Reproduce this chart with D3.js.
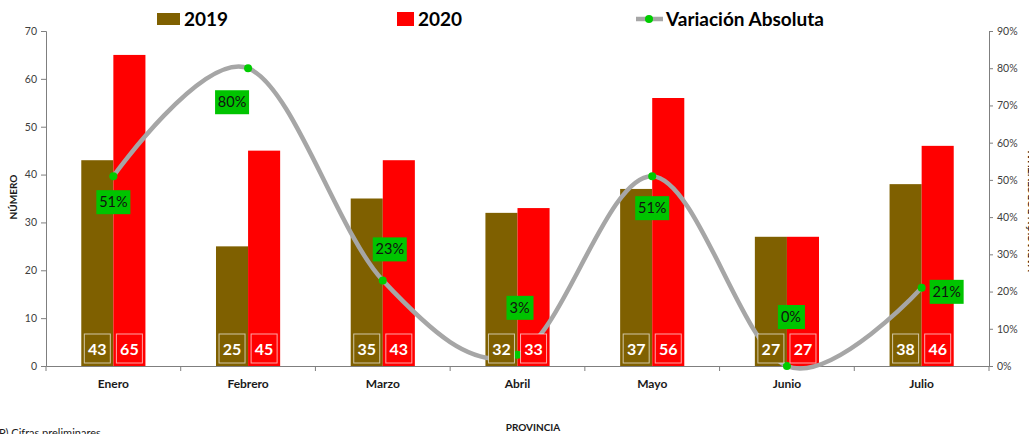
<!DOCTYPE html>
<html><head><meta charset="utf-8">
<script src="https://cdn.jsdelivr.net/npm/d3@7/dist/d3.min.js"></script>
<style>
html,body{margin:0;padding:0;background:#fff;overflow:hidden}
svg{display:block;font-family:Lato,"Open Sans",sans-serif}
</style></head><body>
<script>
const categories = ["Enero","Febrero","Marzo","Abril","Mayo","Junio","Julio"];
const values2019 = [43,25,35,32,37,27,38];
const values2020 = [65,45,43,33,56,27,46];
const variation = [0.51,0.80,0.23,0.03,0.51,0.00,0.21];
const leftTicks = [0,10,20,30,40,50,60,70];
const rightTicks = [0,0.1,0.2,0.3,0.4,0.5,0.6,0.7,0.8,0.9];
const seriesNames = ["2019","2020"];

// label placement offsets (styling, px) for the percent labels
const pctLabelOffset = [[0,26],[-16,34],[7,-31],[2,-47],[0,32],[4,-49],[25,4]];

const W = 1029, H = 434;
const colors = {"2019":"#7f6000","2020":"#ff0000"};
const svg = d3.select("body").append("svg").attr("width",W).attr("height",H);

const x0 = d3.scaleBand().domain(categories).range([46,989]).padding(0);
const x1 = d3.scaleBand().domain(seriesNames).range([0,x0.bandwidth()]).paddingInner(0).paddingOuter(1.1);
const y = d3.scaleLinear().domain([0,70]).range([366,31]);
const y2 = d3.scaleLinear().domain([0,0.9]).range([366,31]);

// bars
const barLayer = svg.append("g");
const groups = barLayer.selectAll("g").data(categories).join("g")
  .attr("transform", d => `translate(${x0(d)},0)`);
groups.each(function(c,i){
  const g = d3.select(this);
  const vals = [values2019[i], values2020[i]];
  seriesNames.forEach((s,k)=>{
    g.append("rect").attr("x",x1(s)).attr("width",x1.bandwidth())
      .attr("y",y(vals[k])).attr("height",y(0)-y(vals[k])).attr("fill",colors[s]);
  });
});

// axes
const axisColor = "#7f7f7f";
const gl = svg.append("g").attr("transform","translate(46,0)")
  .call(d3.axisLeft(y).tickValues(leftTicks).tickSize(5).tickPadding(4));
const gr = svg.append("g").attr("transform","translate(989,0)")
  .call(d3.axisRight(y2).tickValues(rightTicks).tickSize(4).tickPadding(4).tickFormat(d3.format(".0%")));
[gl,gr].forEach(g=>{
  g.select(".domain").attr("stroke",axisColor);
  g.selectAll(".tick line").attr("stroke",axisColor);
  g.selectAll("text").attr("fill","#404040").attr("font-size",10.5).attr("font-family","Lato,sans-serif");
});
const gb = svg.append("g").attr("transform","translate(0,366)")
  .call(d3.axisBottom(x0).tickSize(0).tickPadding(13).tickSizeOuter(0));
gb.select(".domain").attr("stroke",axisColor);
gb.selectAll("text").attr("fill","#1a1a1a").attr("font-size",12).attr("font-weight","bold").attr("font-family","Lato,sans-serif");
const boundaries = categories.map(c=>x0(c)).concat([x0.range()[1]]);
gb.selectAll(".bt").data(boundaries).join("line").attr("class","bt")
  .attr("x1",d=>d).attr("x2",d=>d).attr("y1",0).attr("y2",5).attr("stroke",axisColor);

// line
const pts = categories.map((c,i)=>[x0(c)+x0.bandwidth()/2, y2(variation[i])]);
svg.append("path").attr("d", d3.line().curve(d3.curveCardinal.tension(0))(pts))
  .attr("fill","none").attr("stroke","#a6a6a6").attr("stroke-width",4.5).attr("stroke-linecap","round");
svg.append("g").selectAll("circle").data(pts).join("circle")
  .attr("cx",d=>d[0]).attr("cy",d=>d[1]).attr("r",4).attr("fill","#00cc00");

// value boxes (drawn above the line)
const boxGroups = svg.append("g").selectAll("g").data(categories).join("g")
  .attr("transform", d => `translate(${x0(d)},0)`);
boxGroups.each(function(c,i){
  const g = d3.select(this);
  const vals = [values2019[i], values2020[i]];
  seriesNames.forEach((s,k)=>{
    const cx = x1(s)+x1.bandwidth()/2;
    g.append("rect").attr("x",cx-13).attr("y",334).attr("width",26).attr("height",29)
      .attr("fill",colors[s]).attr("stroke","rgba(255,255,255,0.65)").attr("stroke-width",1);
    g.append("text").attr("x",cx).attr("y",355).attr("text-anchor","middle")
      .attr("fill","#fff").attr("font-size",16).attr("font-weight","bold").text(vals[k]);
  });
});

// percent labels
const pl = svg.append("g").selectAll("g").data(pts).join("g")
  .attr("transform",(d,i)=>`translate(${d[0]+pctLabelOffset[i][0]},${d[1]+pctLabelOffset[i][1]})`);
pl.append("rect").attr("x",(d,i)=>variation[i]<0.1?-13:-17).attr("y",-12)
  .attr("width",(d,i)=>variation[i]<0.1?27:34).attr("height",24).attr("fill","#00c400");
pl.append("text").attr("text-anchor","middle").attr("y",5).attr("font-size",14.5)
  .attr("fill","#111").text((d,i)=>d3.format(".0%")(variation[i]));

// legend
const lg = svg.append("g").attr("font-weight","bold").attr("font-size",19).attr("fill","#000");
lg.append("rect").attr("x",157).attr("y",13).attr("width",23).attr("height",12).attr("fill",colors["2019"]);
lg.append("text").attr("x",184).attr("y",26).text(seriesNames[0]);
lg.append("rect").attr("x",397).attr("y",12).attr("width",17).attr("height",14).attr("fill",colors["2020"]);
lg.append("text").attr("x",418).attr("y",26).text(seriesNames[1]);
lg.append("line").attr("x1",636).attr("x2",663).attr("y1",19).attr("y2",19).attr("stroke","#a6a6a6").attr("stroke-width",4.5);
lg.append("circle").attr("cx",649).attr("cy",19).attr("r",4).attr("fill","#00cc00");
lg.append("text").attr("x",666).attr("y",26).text("Variación Absoluta");

// titles
svg.append("text").attr("transform","translate(17,197) rotate(-90)").attr("text-anchor","middle")
  .attr("font-size",10).attr("font-weight","bold").attr("fill","#1a1a1a").text("NÚMERO");
svg.append("text").attr("transform","translate(1035,210) rotate(-90)").attr("text-anchor","middle")
  .attr("font-size",10).attr("font-weight","bold").attr("fill","#1a1a1a").text("VARIACIÓN PORCENTUAL");
svg.append("text").attr("x",533).attr("y",431).attr("text-anchor","middle")
  .attr("font-size",10).attr("font-weight","bold").attr("fill","#1a1a1a").text("PROVINCIA");
svg.append("text").attr("x",-4).attr("y",437).attr("font-size",11).attr("fill","#1a1a1a").text("(P) Cifras preliminares");
</script>
</body></html>
